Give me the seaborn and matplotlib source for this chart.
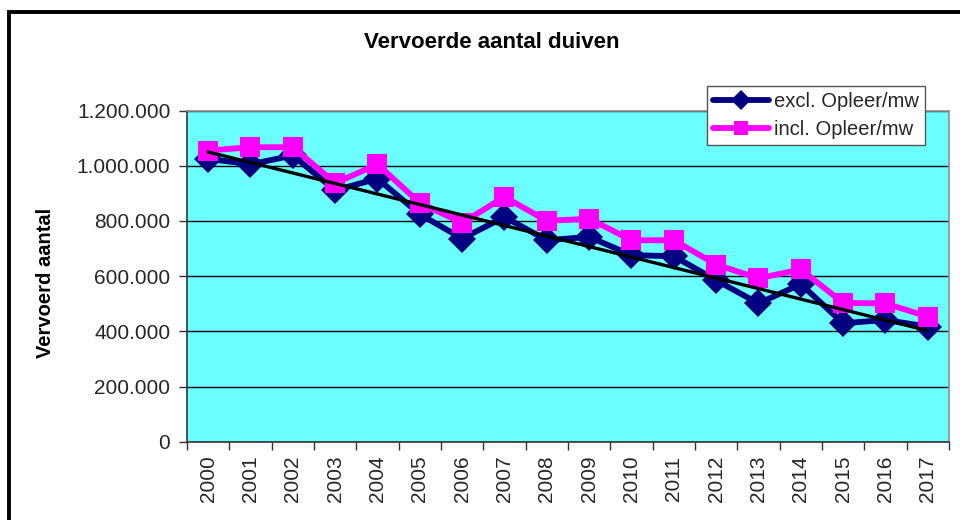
import matplotlib
matplotlib.use("Agg")
import matplotlib.pyplot as plt
from matplotlib.patches import Rectangle
from matplotlib.lines import Line2D
from matplotlib.ticker import FuncFormatter, FixedLocator
import seaborn as sns
import pandas as pd
import numpy as np

years = list(range(2000, 2018))
excl = [1025000, 1005000, 1037000, 911000, 953000, 824000, 736000, 814000, 730000,
        742000, 676000, 672000, 585000, 501000, 571000, 429000, 441000, 417000]
incl = [1055000, 1067000, 1067000, 937000, 1005000, 865000, 793000, 887000, 800000,
        808000, 730000, 730000, 642000, 592000, 624000, 503000, 501000, 453000]
series_names = ["excl. Opleer/mw", "incl. Opleer/mw"]
title = "Vervoerde aantal duiven"
ylabel = "Vervoerd aantal"

sns.set_theme(style="white")
plt.rcParams["font.family"] = ["Liberation Sans", "DejaVu Sans"]

df = pd.DataFrame({
    "jaar": years * 2,
    "aantal": excl + incl,
    "serie": [series_names[0]] * len(years) + [series_names[1]] * len(years),
})

W, H = 960, 520
fig = plt.figure(figsize=(9.6, 5.2), dpi=100)
fig.patch.set_facecolor("white")

# outer chart frame (clipped at right/bottom like the reference)
fig.add_artist(Rectangle((9 / W, -0.05), 1.2, 1 - 11.5 / H + 0.05, transform=fig.transFigure,
                         fill=False, edgecolor="black", linewidth=2.8))

left, right, top, bottom = 187, 949, 110.5, 441.7
ax = fig.add_axes([left / W, 1 - bottom / H, (right - left) / W, (bottom - top) / H])
ax.set_facecolor("#6BFFFF")

navy = "#000080"
magenta = "#FF00FF"

sns.lineplot(data=df, x="jaar", y="aantal", hue="serie", style="serie",
             palette={series_names[0]: navy, series_names[1]: magenta},
             markers={series_names[0]: "D", series_names[1]: "s"},
             dashes=False, linewidth=4.2, markersize=14.5, markeredgewidth=0,
             legend=False, ax=ax, zorder=3)

sns.regplot(x=years, y=excl, scatter=False, ci=None, truncate=True,
            line_kws={"color": "black", "linewidth": 2.4, "zorder": 5}, ax=ax)

ax.set_xlim(1999.5, 2017.5)
ax.set_ylim(0, 1200000)
ax.set_yticks(np.arange(0, 1200001, 200000))
ax.yaxis.set_major_formatter(FuncFormatter(lambda v, p: f"{int(v):,}".replace(",", ".")))
ax.yaxis.grid(True, color="black", linewidth=1.0)
ax.set_axisbelow(True)

ax.set_xticks(years)
ax.set_xticklabels([str(y) for y in years], rotation=90, fontsize=15)
ax.xaxis.set_minor_locator(FixedLocator([y + 0.5 for y in [1999] + years]))
ax.tick_params(axis="x", which="major", length=0, pad=10)
ax.tick_params(axis="x", which="minor", length=6, width=1, color="#333333", direction="out", bottom=True)
ax.tick_params(axis="y", which="major", length=6, width=1, color="#333333", direction="out",
               left=True, labelsize=15, pad=6)

ax.set_xlabel("")
ax.set_ylabel("")

for s in ["left", "bottom"]:
    ax.spines[s].set_color("#333333")
    ax.spines[s].set_linewidth(1.2)
for s in ["top", "right"]:
    ax.spines[s].set_color("#909090")
    ax.spines[s].set_linewidth(1.2)

fig.text(491.5 / W, 1 - 43 / H, title, ha="center", va="center",
         fontsize=16, fontweight="bold", color="black")
fig.text(46 / W, 1 - 283 / H, ylabel, ha="center", va="center", rotation=90,
         fontsize=14.5, fontweight="bold", color="black")

handles = [
    Line2D([0], [0], color=navy, marker="D", markersize=10, linewidth=4.2, markeredgewidth=0),
    Line2D([0], [0], color=magenta, marker="s", markersize=10, linewidth=4.2, markeredgewidth=0),
]
leg = ax.legend(handles, series_names, loc="upper right",
                bbox_to_anchor=((925 - left) / (right - left), (bottom - 86) / (bottom - top)),
                borderaxespad=0, frameon=True, fancybox=False, framealpha=1,
                edgecolor="#555555", fontsize=14.5, handlelength=2.8, handletextpad=0.25,
                borderpad=0.3, labelspacing=0.45)
leg.get_frame().set_linewidth(1.0)
leg.set_zorder(10)

fig.savefig("out.png", dpi=100)
